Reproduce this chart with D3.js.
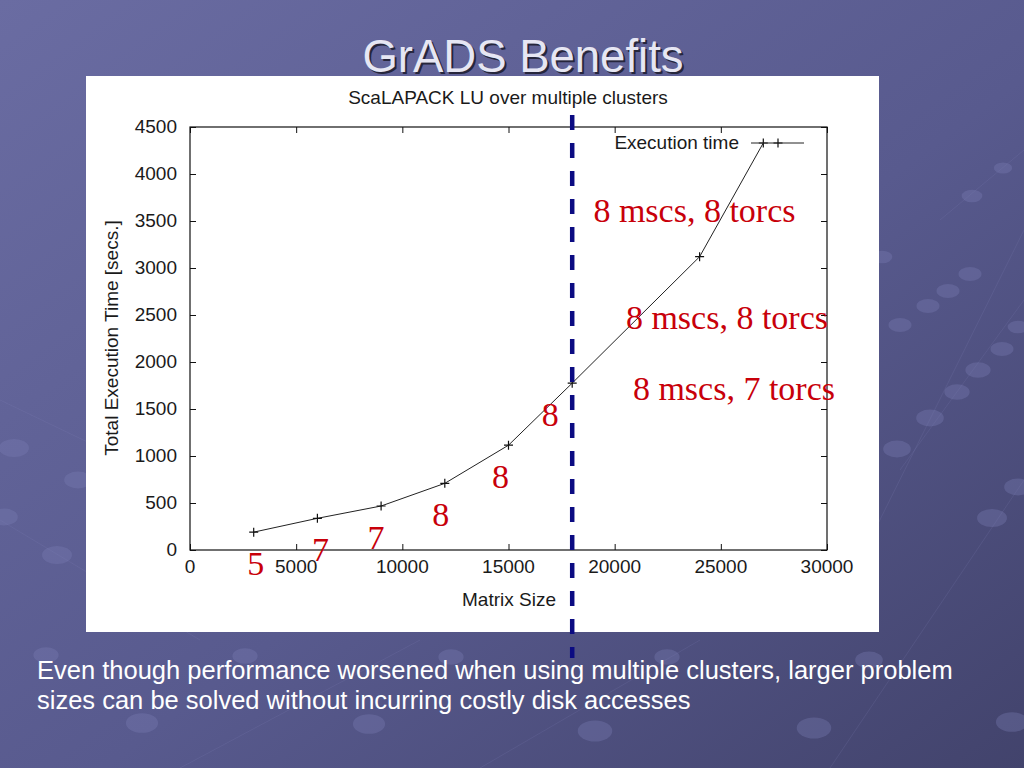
<!DOCTYPE html>
<html>
<head>
<meta charset="utf-8">
<script src="https://cdn.jsdelivr.net/npm/d3@7"></script>
<style>
  html, body { margin: 0; padding: 0; }
  body { width: 1024px; height: 768px; overflow: hidden; }
</style>
</head>
<body>
<div id="slide"></div>
<script>
// Execution time of ScaLAPACK LU vs matrix size
const matrixSizes = [3000, 6000, 9000, 12000, 15000, 18000, 24000, 27000];
const execTimes = [190, 337, 468, 709, 1115, 1775, 3120, 4330];
const xTicks = [0, 5000, 10000, 15000, 20000, 25000, 30000];
const yTicks = [0, 500, 1000, 1500, 2000, 2500, 3000, 3500, 4000, 4500];
const clusterCounts = ['5', '7', '7', '8', '8', '8'];
const configLabels = ['8 mscs, 8 torcs', '8 mscs, 8 torcs', '8 mscs, 7 torcs'];
const splitSize = 18000;

const width = 1024;
const height = 768;

const svg = d3.select('#slide')
    .append('svg')
    .attr('width', width)
    .attr('height', height);

// background
const defs = svg.append('defs');
const grad = defs.append('linearGradient')
    .attr('id', 'bg')
    .attr('x1', '0%').attr('y1', '0%')
    .attr('x2', '100%').attr('y2', '100%');
grad.append('stop').attr('offset', '0%').attr('stop-color', '#6a6ca2');
grad.append('stop').attr('offset', '55%').attr('stop-color', '#585a8e');
grad.append('stop').attr('offset', '100%').attr('stop-color', '#42436c');

svg.append('rect')
    .attr('width', width)
    .attr('height', height)
    .attr('fill', 'url(#bg)');

// decorative dots on faint diagonal lines
const deco = svg.append('g');
const decoLines = [
    [[860, 560], [1024, 230]], [[900, 470], [1024, 300]], [[830, 768], [1024, 480]],
    [[0, 400], [250, 520]], [[0, 520], [200, 640]], [[480, 768], [700, 640]],
    [[180, 768], [420, 640]], [[940, 220], [1024, 150]]
];
deco.selectAll('line')
    .data(decoLines)
    .enter()
    .append('line')
    .attr('x1', (d) => d[0][0]).attr('y1', (d) => d[0][1])
    .attr('x2', (d) => d[1][0]).attr('y2', (d) => d[1][1])
    .attr('stroke', '#8a8cc0')
    .attr('stroke-opacity', 0.15)
    .attr('stroke-width', 1);

const decoDots = [
    [882, 257, 9], [970, 274, 10], [948, 291, 10], [928, 306, 10], [900, 325, 10],
    [1018, 327, 9], [1002, 349, 10], [978, 370, 11], [957, 392, 11], [930, 418, 12],
    [897, 449, 12], [1018, 487, 12], [992, 518, 13], [972, 196, 9], [1003, 168, 8],
    [14, 448, 13], [78, 480, 12], [4, 517, 12], [57, 555, 13],
    [46, 655, 11], [245, 656, 11], [451, 657, 11], [667, 657, 11], [869, 660, 12],
    [142, 723, 14], [369, 724, 14], [595, 731, 15], [814, 728, 15], [1012, 722, 14]
];
deco.selectAll('ellipse')
    .data(decoDots)
    .enter()
    .append('ellipse')
    .attr('cx', (d) => d[0])
    .attr('cy', (d) => d[1])
    .attr('rx', (d) => d[2] * 1.15)
    .attr('ry', (d) => d[2] * 0.7)
    .attr('fill', '#7c7eb4')
    .attr('fill-opacity', 0.35);

// slide title
const titleFont = 'Liberation Sans, Arial, sans-serif';
svg.append('text')
    .attr('x', 525).attr('y', 74)
    .attr('text-anchor', 'middle')
    .style('font-family', titleFont)
    .style('font-size', '45.5px')
    .attr('fill', '#26263c')
    .text('GrADS Benefits');
svg.append('text')
    .attr('x', 523).attr('y', 72)
    .attr('text-anchor', 'middle')
    .style('font-family', titleFont)
    .style('font-size', '45.5px')
    .attr('fill', '#e6e6f3')
    .text('GrADS Benefits');

// white chart panel
svg.append('rect')
    .attr('x', 86).attr('y', 76)
    .attr('width', 793).attr('height', 556)
    .attr('fill', '#ffffff');

const plot = { left: 190, right: 827, top: 127, bottom: 550 };

const x = d3.scaleLinear()
    .domain([0, 30000])
    .range([plot.left, plot.right]);

const y = d3.scaleLinear()
    .domain([0, 4500])
    .range([plot.bottom, plot.top]);

const chartFont = 'Liberation Sans, Arial, Helvetica, sans-serif';
const tickLen = 6;

// frame
svg.append('rect')
    .attr('x', plot.left).attr('y', plot.top)
    .attr('width', plot.right - plot.left)
    .attr('height', plot.bottom - plot.top)
    .attr('fill', 'none')
    .attr('stroke', '#111')
    .attr('stroke-width', 1.2);

// inward ticks, mirrored (gnuplot style)
const axes = svg.append('g').attr('class', 'axes');
axes.append('g')
    .attr('transform', `translate(0,${plot.bottom})`)
    .call(d3.axisBottom(x).tickValues(xTicks).tickSize(-tickLen).tickFormat(''))
    .call((g) => g.select('.domain').remove());
axes.append('g')
    .attr('transform', `translate(0,${plot.top})`)
    .call(d3.axisTop(x).tickValues(xTicks).tickSize(-tickLen).tickFormat(''))
    .call((g) => g.select('.domain').remove());
axes.append('g')
    .attr('transform', `translate(${plot.left},0)`)
    .call(d3.axisLeft(y).tickValues(yTicks).tickSize(-tickLen).tickFormat(''))
    .call((g) => g.select('.domain').remove());
axes.append('g')
    .attr('transform', `translate(${plot.right},0)`)
    .call(d3.axisRight(y).tickValues(yTicks).tickSize(-tickLen).tickFormat(''))
    .call((g) => g.select('.domain').remove());
axes.selectAll('.tick line').attr('stroke', '#111');

// tick labels
svg.selectAll('.xlabel')
    .data(xTicks)
    .enter()
    .append('text')
    .attr('class', 'xlabel')
    .attr('x', (d) => x(d))
    .attr('y', 573)
    .attr('text-anchor', 'middle')
    .style('font-family', chartFont)
    .style('font-size', '19px')
    .attr('fill', '#1a1a1a')
    .text((d) => d);

svg.selectAll('.ylabel')
    .data(yTicks)
    .enter()
    .append('text')
    .attr('class', 'ylabel')
    .attr('x', 177)
    .attr('y', (d) => y(d) + 6)
    .attr('text-anchor', 'end')
    .style('font-family', chartFont)
    .style('font-size', '19px')
    .attr('fill', '#1a1a1a')
    .text((d) => d);

// chart titles
svg.append('text')
    .attr('x', 508).attr('y', 104)
    .attr('text-anchor', 'middle')
    .style('font-family', chartFont)
    .style('font-size', '19px')
    .attr('fill', '#1a1a1a')
    .text('ScaLAPACK LU over multiple clusters');

svg.append('text')
    .attr('x', 509).attr('y', 606)
    .attr('text-anchor', 'middle')
    .style('font-family', chartFont)
    .style('font-size', '19px')
    .attr('fill', '#1a1a1a')
    .text('Matrix Size');

svg.append('text')
    .attr('transform', 'translate(118,338) rotate(-90)')
    .attr('text-anchor', 'middle')
    .style('font-family', chartFont)
    .style('font-size', '19px')
    .attr('fill', '#1a1a1a')
    .text('Total Execution Time [secs.]');

// the series
const points = matrixSizes.map((s, i) => ({ size: s, time: execTimes[i] }));

const line = d3.line()
    .x((d) => x(d.size))
    .y((d) => y(d.time));

svg.append('path')
    .datum(points)
    .attr('d', line)
    .attr('fill', 'none')
    .attr('stroke', '#222')
    .attr('stroke-width', 1);

const plus = (sel, r) => sel
    .attr('d', `M${-r},0H${r}M0,${-r}V${r}`)
    .attr('stroke', '#111')
    .attr('stroke-width', 1.2)
    .attr('fill', 'none');

svg.selectAll('.marker')
    .data(points)
    .enter()
    .append('path')
    .attr('class', 'marker')
    .attr('transform', (d) => `translate(${x(d.size)},${y(d.time)})`)
    .call(plus, 4.5);

// legend
svg.append('text')
    .attr('x', 739).attr('y', 149)
    .attr('text-anchor', 'end')
    .style('font-family', chartFont)
    .style('font-size', '19px')
    .attr('fill', '#1a1a1a')
    .text('Execution time');
svg.append('line')
    .attr('x1', 751).attr('x2', 804)
    .attr('y1', 143).attr('y2', 143)
    .attr('stroke', '#222')
    .attr('stroke-width', 1);
svg.append('path')
    .attr('transform', 'translate(778,143)')
    .call(plus, 4.5);

// split between single and multiple clusters
svg.append('line')
    .attr('x1', x(splitSize)).attr('x2', x(splitSize))
    .attr('y1', 115).attr('y2', 658)
    .attr('stroke', '#0b0b82')
    .attr('stroke-width', 4.5)
    .attr('stroke-dasharray', '15,13');

// annotations (red, Times)
const redFont = 'Liberation Serif, Times New Roman, serif';
const countDx = [2, 3, -5, -4, -8, -22];

svg.selectAll('.count')
    .data(clusterCounts)
    .enter()
    .append('text')
    .attr('class', 'count')
    .attr('x', (d, i) => x(matrixSizes[i]) + countDx[i])
    .attr('y', (d, i) => y(execTimes[i]) + 43)
    .attr('text-anchor', 'middle')
    .style('font-family', redFont)
    .style('font-size', '34px')
    .attr('fill', '#c8000a')
    .text((d) => d);

const configAnchors = [[19000, 3490], [20530, 2350], [20860, 1595]];

svg.selectAll('.config')
    .data(configLabels)
    .enter()
    .append('text')
    .attr('class', 'config')
    .attr('x', (d, i) => x(configAnchors[i][0]))
    .attr('y', (d, i) => y(configAnchors[i][1]))
    .style('font-family', redFont)
    .style('font-size', '34px')
    .attr('fill', '#c8000a')
    .text((d) => d);

// caption
const caption = svg.append('text')
    .style('font-family', titleFont)
    .style('font-size', '25.5px')
    .attr('fill', '#ffffff');
caption.append('tspan')
    .attr('x', 37).attr('y', 679)
    .text('Even though performance worsened when using multiple clusters, larger problem');
caption.append('tspan')
    .attr('x', 37).attr('y', 709)
    .text('sizes can be solved without incurring costly disk accesses');
</script>
</body>
</html>
